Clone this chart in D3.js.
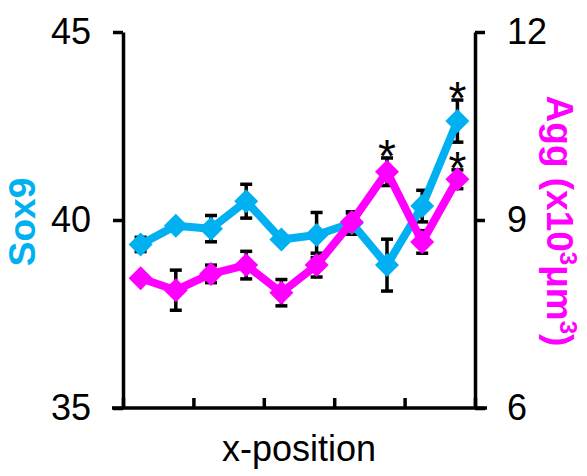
<!DOCTYPE html>
<html>
<head>
<meta charset="utf-8">
<script src="https://cdn.jsdelivr.net/npm/d3@7"></script>
<style>
  body { margin: 0; background: #fff; }
  text { font-family: "Liberation Sans", Arial, sans-serif; }
</style>
</head>
<body>
<div id="chart"></div>
<script>
// positions along x (bins)
var positions = [1, 2, 3, 4, 5, 6, 7, 8, 9, 10];

// Sox9 (left axis)
var sox9 = [39.35, 39.85, 39.77, 40.5, 39.48, 39.6, 39.92, 38.8, 40.37, 42.63];
var sox9Err = [0.19, 0.1, 0.35, 0.45, 0.1, 0.6, 0.3, 0.69, 0.42, 0.56];
var sox9Sig = [false, false, false, false, false, false, false, false, false, true];

// Agg (x10^3 um^3, right axis)
var agg = [8.07, 7.88, 8.14, 8.28, 7.84, 8.28, 8.97, 9.77, 8.65, 9.65];
var aggErr = [0.05, 0.32, 0.14, 0.22, 0.21, 0.19, 0.14, 0.22, 0.18, 0.15];
var aggSig = [false, false, false, false, false, false, false, true, false, true];

var leftTicks = [35, 40, 45];
var rightTicks = [6, 9, 12];
var xTicks = [0, 2, 4, 6, 8, 10];

var blue = "#00b0f0", pink = "#ff00ff";

var W = 587, H = 476;
var x0 = 123, x1 = 475, yTop = 32, yBot = 408;

var x = d3.scaleLinear().domain([0, 10]).range([x0, x1]);
var yL = d3.scaleLinear().domain([35, 45]).range([yBot, yTop]);
var yR = d3.scaleLinear().domain([6, 12]).range([yBot, yTop]);
var px = function(i) { return x(positions[i] - 0.5); };

var svg = d3.select("#chart").append("svg")
    .attr("width", W)
    .attr("height", H);

// axes
var axL = svg.append("g")
    .attr("transform", "translate(" + x0 + ",0)")
    .call(d3.axisLeft(yL).tickValues(leftTicks).tickSize(10).tickSizeOuter(0)
      .tickPadding(22).tickFormat(d3.format("d")));
var axR = svg.append("g")
    .attr("transform", "translate(" + x1 + ",0)")
    .call(d3.axisRight(yR).tickValues(rightTicks).tickSize(10).tickSizeOuter(0)
      .tickPadding(22).tickFormat(d3.format("d")));
var axB = svg.append("g")
    .attr("transform", "translate(0," + yBot + ")")
    .call(d3.axisTop(x).tickValues(xTicks).tickSize(10).tickSizeOuter(0).tickFormat(""));

[axL, axR, axB].forEach(function(a) {
  a.select(".domain").attr("stroke", "#000").attr("stroke-width", 3.5);
  a.selectAll(".tick line").attr("stroke", "#000").attr("stroke-width", 3.5);
  a.selectAll(".tick text")
      .attr("fill", "#000")
      .style("font-size", "36px")
      .style("font-family", "'Liberation Sans', Arial, sans-serif");
});
// bottom axis extends a bit past both vertical axes
axB.select(".domain").attr("d", "M" + (x0 - 11) + ",0H" + (x1 + 12));

// error bars
function errorBars(vals, errs, y) {
  var g = svg.append("g").attr("stroke", "#000").attr("stroke-width", 3.5);
  vals.forEach(function(v, i) {
    var cx = px(i), t = y(v + errs[i]), b = y(v - errs[i]);
    g.append("line").attr("x1", cx).attr("x2", cx).attr("y1", t).attr("y2", b);
    g.append("line").attr("x1", cx - 6).attr("x2", cx + 6).attr("y1", t).attr("y2", t);
    g.append("line").attr("x1", cx - 6).attr("x2", cx + 6).attr("y1", b).attr("y2", b);
  });
}
errorBars(sox9, sox9Err, yL);
errorBars(agg, aggErr, yR);

function series(vals, y, color) {
  var line = d3.line()
      .x(function(d, i) { return px(i); })
      .y(function(d) { return y(d); });
  svg.append("path")
      .datum(vals)
      .attr("fill", "none")
      .attr("stroke", color)
      .attr("stroke-width", 8)
      .attr("stroke-linejoin", "round")
      .attr("d", line);
  svg.append("g").selectAll("path")
      .data(vals)
    .enter().append("path")
      .attr("fill", color)
      .attr("transform", function(d, i) { return "translate(" + px(i) + "," + y(d) + ")"; })
      .attr("d", "M0,-12L12,0L0,12L-12,0Z");
}
series(sox9, yL, blue);
series(agg, yR, pink);

// significance marks
function stars(vals, errs, sig, y) {
  vals.forEach(function(v, i) {
    if (!sig[i]) return;
    svg.append("text")
        .attr("x", px(i))
        .attr("y", y(v + errs[i]) + 14)
        .attr("text-anchor", "middle")
        .style("font-size", "46px")
        .text("*");
  });
}
stars(sox9, sox9Err, sox9Sig, yL);
stars(agg, aggErr, aggSig, yR);

// axis titles
svg.append("text")
    .attr("transform", "translate(35,222) rotate(-90)")
    .attr("text-anchor", "middle")
    .attr("fill", blue)
    .style("font-size", "37px")
    .style("font-weight", "bold")
    .text("Sox9");

var rt = svg.append("text")
    .attr("transform", "translate(547,221) rotate(90)")
    .attr("text-anchor", "middle")
    .attr("fill", pink)
    .style("font-size", "37px")
    .style("font-weight", "bold");
rt.append("tspan").text("Agg (x10");
rt.append("tspan").attr("dy", -13).style("font-size", "24px").text("3");
rt.append("tspan").attr("dy", 13).text("\u03bcm");
rt.append("tspan").attr("dy", -13).style("font-size", "24px").text("3");
rt.append("tspan").attr("dy", 13).text(")");

svg.append("text")
    .attr("x", (x0 + x1) / 2)
    .attr("y", 461)
    .attr("text-anchor", "middle")
    .style("font-size", "36px")
    .text("x-position");
</script>
</body>
</html>
